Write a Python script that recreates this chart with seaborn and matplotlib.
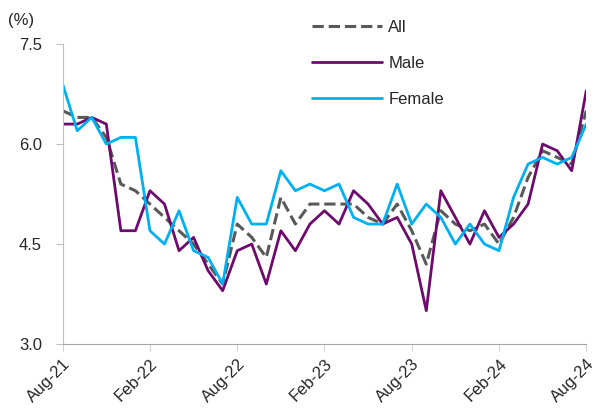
import pandas as pd
import matplotlib.pyplot as plt
import seaborn as sns

# Monthly rates, Aug-21 .. Aug-24
months = pd.date_range('2021-08-01', '2024-08-01', freq='MS')
all_rate = [6.5, 6.4, 6.4, 6.1, 5.4, 5.3, 5.1, 4.9, 4.7, 4.5, 4.2, 3.9,
            4.8, 4.6, 4.3, 5.2, 4.8, 5.1, 5.1, 5.1, 5.1, 4.9, 4.8, 5.1,
            4.7, 4.2, 5.0, 4.8, 4.7, 4.8, 4.5, 4.9, 5.5, 5.9, 5.8, 5.7, 6.5]
male = [6.3, 6.3, 6.4, 6.3, 4.7, 4.7, 5.3, 5.1, 4.4, 4.6, 4.1, 3.8,
        4.4, 4.5, 3.9, 4.7, 4.4, 4.8, 5.0, 4.8, 5.3, 5.1, 4.8, 4.9,
        4.5, 3.5, 5.3, 4.9, 4.5, 5.0, 4.6, 4.8, 5.1, 6.0, 5.9, 5.6, 6.8]
female = [6.9, 6.2, 6.4, 6.0, 6.1, 6.1, 4.7, 4.5, 5.0, 4.4, 4.3, 3.9,
          5.2, 4.8, 4.8, 5.6, 5.3, 5.4, 5.3, 5.4, 4.9, 4.8, 4.8, 5.4,
          4.8, 5.1, 4.9, 4.5, 4.8, 4.5, 4.4, 5.2, 5.7, 5.8, 5.7, 5.8, 6.3]

df = pd.DataFrame({'t': range(len(months)), 'All': all_rate, 'Male': male, 'Female': female})
tick_pos = list(range(0, len(months), 6))
tick_labels = [months[i].strftime('%b-%y') for i in tick_pos]

sns.set_style('white')
plt.rcParams['font.family'] = ['Liberation Sans', 'DejaVu Sans']

fig = plt.figure(figsize=(5.97, 4.16), dpi=100)
ax = fig.add_axes([0.105, 0.173, 0.877, 0.721])

sns.lineplot(data=df, x='t', y='All', ax=ax, color='#595959', lw=2.2, dashes=(3.6, 2.4),
             linestyle='--', label='All')
sns.lineplot(data=df, x='t', y='Male', ax=ax, color='#6E0A6E', lw=2, label='Male')
sns.lineplot(data=df, x='t', y='Female', ax=ax, color='#00B0F0', lw=2, label='Female')

ax.set_xlim(0, len(months) - 1)
ax.set_ylim(3.0, 7.5)
ax.set_yticks([3.0, 4.5, 6.0, 7.5])
ax.set_yticklabels(['3.0', '4.5', '6.0', '7.5'], fontsize=12)
ax.set_xticks(tick_pos)
ax.set_xticklabels(tick_labels, rotation=45, ha='right', rotation_mode='anchor', fontsize=12)
ax.set_xlabel('')
ax.set_ylabel('')

for s in ['top', 'right']:
    ax.spines[s].set_visible(False)
ax.spines['left'].set_color('#BFBFBF')
ax.spines['bottom'].set_color('#A6A6A6')
ax.tick_params(axis='y', direction='out', length=5, color='#BFBFBF', left=True, pad=10)
ax.tick_params(axis='x', direction='out', length=5, color='#D0D0D0', bottom=True, pad=4)

fig.text(0.013, 0.94, '(%)', fontsize=12)

ax.legend(loc='upper left', bbox_to_anchor=(0.497, 0.988), bbox_transform=fig.transFigure,
          frameon=False, fontsize=12, handlelength=4.2, labelspacing=1.25, handletextpad=0.4)

fig.savefig('out.png', dpi=100)
